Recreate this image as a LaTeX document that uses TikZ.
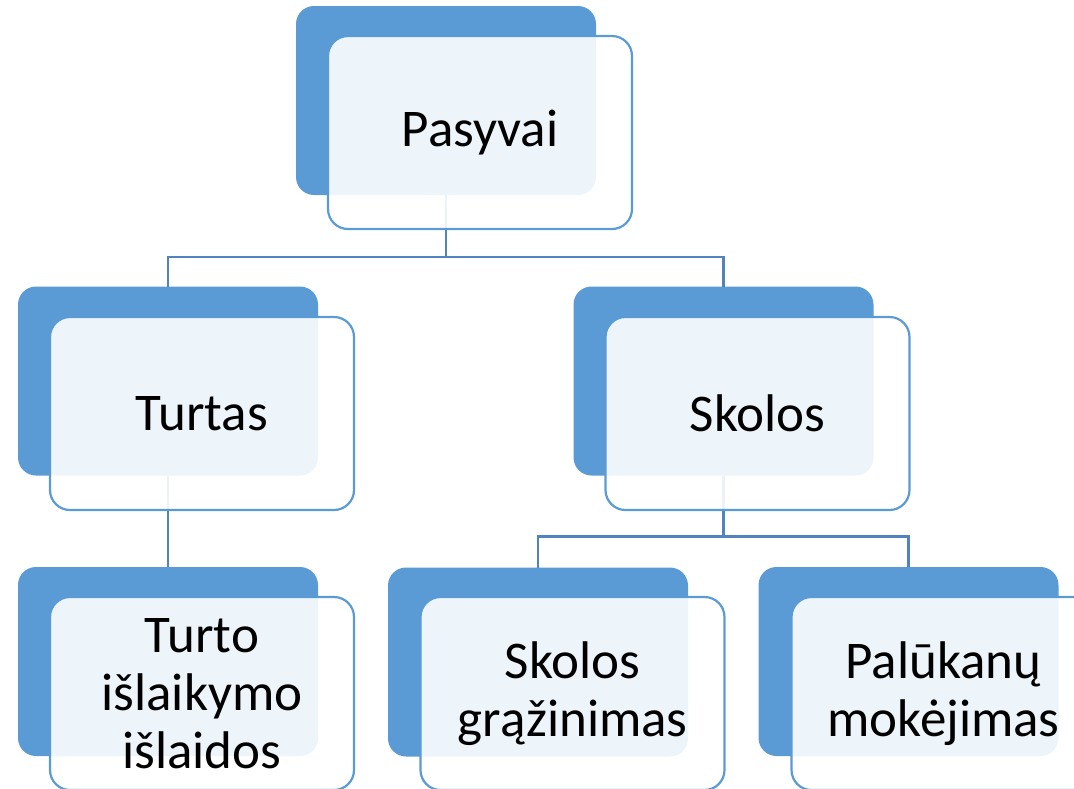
\documentclass[tikz,border=0pt]{standalone}
\usepackage{fontspec}
\setmainfont{Carlito}
\definecolor{dkblue}{HTML}{5B9BD5}
\definecolor{lnblue}{HTML}{4F84BF}
\begin{document}
\begin{tikzpicture}[x=1pt,y=-1pt,
 back/.style={fill=dkblue, rounded corners=18pt, draw=none, inner sep=0pt, outer sep=0pt, minimum width=300pt, minimum height=189pt},
 front/.style={draw=dkblue, line width=2.2pt, fill=white, fill opacity=0.9, text opacity=1, rounded corners=20pt, align=center, inner sep=0pt, outer sep=0pt, minimum width=304pt, minimum height=193pt, font=\fontsize{53}{58}\selectfont},
 conn/.style={draw=lnblue, line width=2.2pt}]
\useasboundingbox (0,0) rectangle (1074,788);
% back boxes
\node[back] (pb) at (446,100.5) {};
\node[back] (tb) at (168,381) {};
\node[back] (sb) at (723.5,381) {};
\node[back] (ib) at (168,661.5) {};
\node[back] (gb) at (538,662) {};
\node[back] (mb) at (908.5,661.5) {};
% connectors
\draw[conn] (pb.south) -- ++(0,62) -| (tb.north);
\draw[conn] (pb.south) -- ++(0,62) -| (sb.north);
\draw[conn] (tb.south) -- (ib.north);
\draw[conn] (sb.south) -- ++(0,61) -| (gb.north);
\draw[conn] (sb.south) -- ++(0,61) -| (mb.north);
% front boxes
\node[front] (pf) at (480,132.5) {Pasyvai};
\node[front] (tf) at (202,413.5) {Turtas};
\node[front] (sf) at (757.5,413.5) {Skolos};
\node[front] (if) at (202,693.5) {Turto\\išlaikymo\\išlaidos};
\node[front] (gf) at (572.5,693.5) {Skolos\\grąžinimas};
\node[front] (mf) at (943.5,693.5) {Palūkanų\\mokėjimas};
\end{tikzpicture}
\end{document}
